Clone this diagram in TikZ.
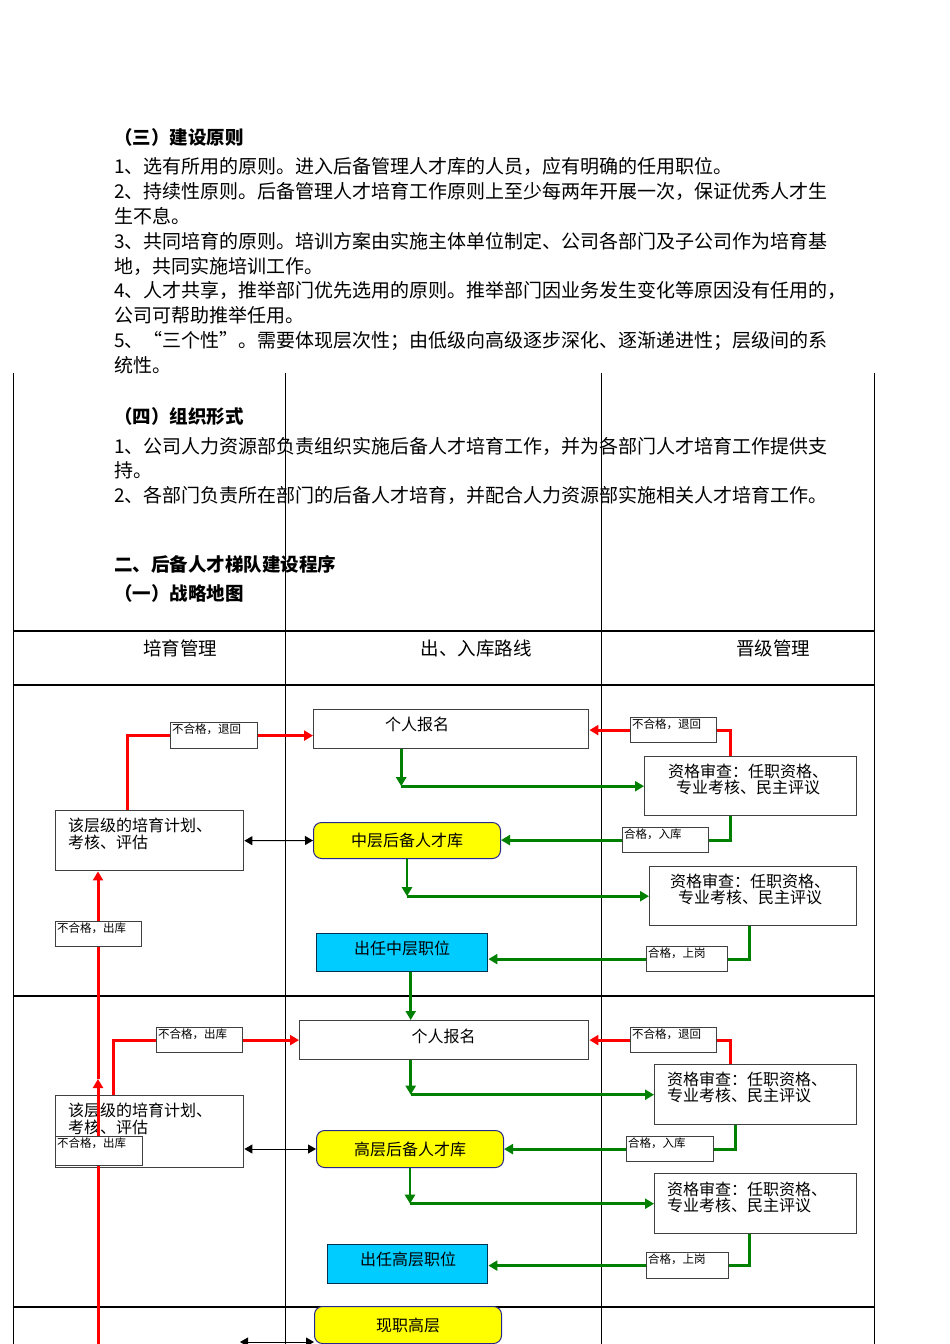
\documentclass[tikz,border=0pt]{standalone}
\usepackage{fontspec}
\setmainfont{Noto Sans CJK SC}
\usetikzlibrary{arrows.meta,calc}
\pgfdeclarelayer{front}
\pgfsetlayers{main,front}
\definecolor{gr}{RGB}{0,128,0}
\definecolor{rd}{RGB}{255,0,0}
\definecolor{yl}{RGB}{255,255,0}
\definecolor{cy}{RGB}{0,204,255}
\definecolor{navy}{RGB}{40,40,140}
\definecolor{tealb}{RGB}{0,50,80}
\definecolor{bord}{RGB}{64,64,64}
\begin{document}
\begin{tikzpicture}[x=1pt,y=-1pt,
  body/.style={anchor=base west,inner sep=0,font=\fontsize{19}{19}\selectfont},
  hd/.style={anchor=base west,inner sep=0,font=\fontsize{18.5}{18.5}\selectfont\bfseries},
  colhd/.style={anchor=base,inner sep=0,font=\fontsize{18.5}{18.5}\selectfont},
  grid/.style={line width=1pt,black},
  hgrid/.style={line width=1.6pt,black},
  box/.style={draw=bord,line width=1.4pt,anchor=north west,inner sep=0},
  pool/.style={box,draw=navy,line width=1pt,fill=yl,rounded corners=8pt,font=\fontsize{16}{16}\selectfont},
  post/.style={box,draw=tealb,fill=cy,line width=1.4pt},
  btxt/.style={inner sep=0,font=\fontsize{16}{16}\selectfont},
  mtxt/.style={inner sep=0,font=\fontsize{16}{16}\selectfont,align=#1},
  lbl/.style 2 args={draw=bord,line width=1.2pt,fill=white,anchor=north west,
    inner xsep=1.5pt,inner ysep=1pt,text width=#1,text height=10pt,text depth=#2,
    align=left,font=\fontsize{11.5}{11.5}\selectfont},
  rl/.style={draw=rd,line width=3pt},
  rarr/.style={rl,-{Triangle[length=9pt,width=10pt]}},
  gl/.style={draw=gr,line width=2.8pt},
  garr/.style={gl,-{Triangle[length=9pt,width=10pt]}},
  karr/.style={draw=black,line width=1pt,{Triangle[length=8pt,width=9pt]}-{Triangle[length=8pt,width=9pt]}}
]
\useasboundingbox (0,0) rectangle (950,1344);

% table grid
\draw[grid] (13,373) -- (13,1344);
\draw[grid] (285,373) -- (285,1344);
\draw[grid] (601,373) -- (601,1344);
\draw[grid] (874,373) -- (874,1344);
\draw[hgrid] (13,631) -- (874,631);
\draw[hgrid] (13,685) -- (874,685);
\draw[hgrid] (13,996) -- (874,996);
\draw[hgrid] (13,1307) -- (874,1307);

% text block
\node[hd] (h3) at (114,144) {（三）建设原则};
\node[body] (t1) at (114,173) {1、选有所用的原则。进入后备管理人才库的人员，应有明确的任用职位。};
\node[body] (t2) at (114,198) {2、持续性原则。后备管理人才培育工作原则上至少每两年开展一次，保证优秀人才生};
\node[body] (t2b) at (114,223) {生不息。};
\node[body] (t3) at (114,248) {3、共同培育的原则。培训方案由实施主体单位制定、公司各部门及子公司作为培育基};
\node[body] (t3b) at (114,273) {地，共同实施培训工作。};
\node[body] (t4) at (114,297) {4、人才共享，推举部门优先选用的原则。推举部门因业务发生变化等原因没有任用的，};
\node[body] (t4b) at (114,322) {公司可帮助推举任用。};
\node[body] (t5) at (114,347) {5、“三个性”。需要体现层次性；由低级向高级逐步深化、逐渐递进性；层级间的系};
\node[body] (t5b) at (114,372) {统性。};
\node[hd] (h4) at (114,423) {（四）组织形式};
\node[body] (o1) at (114,453) {1、公司人力资源部负责组织实施后备人才培育工作，并为各部门人才培育工作提供支};
\node[body] (o1b) at (114,477) {持。};
\node[body] (o2) at (114,502) {2、各部门负责所在部门的后备人才培育，并配合人力资源部实施相关人才培育工作。};
\node[hd] (h5) at (114,571) {二、后备人才梯队建设程序};
\node[hd] (h6) at (114,600) {（一）战略地图};

% column headers
\node[colhd] (c1) at (180,655) {培育管理};
\node[colhd] (c2) at (476,655) {出、入库路线};
\node[colhd] (c3) at (773,655) {晋级管理};

% ---- row 1 boxes
\node[box,minimum width=275,minimum height=39] (p1) at (313,709) {};
\node[btxt] (p1t) at (417,724) {个人报名};
\node[box,minimum width=188,minimum height=60] (plan1) at (55,810) {};
\node[mtxt=left,anchor=west,font=\fontsize{16}{17}\selectfont] (plan1t) at (68,833.5) {该层级的培育计划、\\考核、评估};
\node[pool,minimum width=187,minimum height=36] (pool1) at (313,822) {中层后备人才库};
\node[box,minimum width=212,minimum height=59] (q1) at (644,756) {};
\node[mtxt=center] (q1t) at (748,779) {资格审查：任职资格、\\专业考核、民主评议};
\node[box,minimum width=207,minimum height=59] (q2) at (649,866) {};
\node[mtxt=center] (q2t) at (750,889.5) {资格审查：任职资格、\\专业考核、民主评议};
\node[post,minimum width=171,minimum height=38] (post1) at (316,933) {};
\node[btxt] (post1t) at (402,948) {出任中层职位};

% ---- row 2 boxes
\node[box,minimum width=289,minimum height=39] (p2) at (299,1020) {};
\node[btxt] (p2t) at (443.5,1036) {个人报名};
\node[box,minimum width=188,minimum height=72] (plan2) at (55,1095) {};
\node[mtxt=left,anchor=west,font=\fontsize{16}{17}\selectfont] (plan2t) at (68,1118.5) {该层级的培育计划、\\考核、评估};
\node[pool,minimum width=187,minimum height=37] (pool2) at (316,1130) {高层后备人才库};
\node[box,minimum width=202,minimum height=60] (q3) at (654,1064) {};
\node[mtxt=left,anchor=west] (q3t) at (667,1087.5) {资格审查：任职资格、\\专业考核、民主评议};
\node[box,minimum width=202,minimum height=60] (q4) at (654,1173) {};
\node[mtxt=left,anchor=west] (q4t) at (667,1197) {资格审查：任职资格、\\专业考核、民主评议};
\node[post,minimum width=160,minimum height=39] (post2) at (327,1244) {};
\node[btxt] (post2t) at (408,1259) {出任高层职位};

% ---- row 3
\node[pool,minimum width=187,minimum height=37] (pool3) at (314,1306) {现职高层};

% ---- small labels (front layer)
\begin{pgfonlayer}{front}
\node[lbl={84pt}{14pt}] (lA1) at (170,722) {不合格，退回};
\node[lbl={83pt}{13pt}] (lR1) at (630,717) {不合格，退回};
\node[lbl={83pt}{13pt}] (lG1) at (622,827) {合格，入库};
\node[lbl={78pt}{13pt}] (lG2) at (646,946) {合格，上岗};
\node[lbl={83pt}{13pt}] (lX1) at (55,921) {不合格，出库};
\node[lbl={83pt}{13pt}] (lA2) at (156,1027) {不合格，出库};
\node[lbl={84pt}{17pt}] (lX2) at (55,1136) {不合格，出库};
\node[lbl={83pt}{13pt}] (lR2) at (630,1027) {不合格，退回};
\node[lbl={84pt}{13pt}] (lG3) at (626,1136) {合格，入库};
\node[lbl={79pt}{14pt}] (lG4) at (646,1252) {合格，上岗};
\end{pgfonlayer}

% ---- connectors row 1
\draw[rl] ([xshift=-22pt]plan1.north) |- (lA1.west);
\draw[rarr] (lA1.east) -- (lA1.east -| p1.west);
\draw[rl] ([xshift=-20pt]q1.north) |- (lR1.east);
\draw[rarr] (lR1.west) -- (lR1.west -| p1.east);
\coordinate (p1o) at ([xshift=-50pt]p1.south);
\coordinate (g1) at (p1o |- q1.west);
\draw[garr] (p1o) -- (g1);
\draw[garr] (g1) -- (q1.west);
\draw[gl] ([xshift=-20pt]q1.south) |- (lG1.east);
\draw[garr] (lG1.west) -- (lG1.west -| pool1.east);
\coordinate (g2) at (pool1.south |- q2.west);
\draw[garr] (pool1.south) -- (g2);
\draw[garr] (g2) -- (q2.west);
\draw[gl] ([xshift=-3.5pt]q2.south) |- (lG2.east);
\draw[garr] (lG2.west) -- (lG2.west -| post1.east);
\coordinate (post1o) at ([xshift=8.5pt]post1.south);
\draw[garr] (post1o) -- (post1o |- p2.north);
\draw[karr] (plan1.east) -- (pool1.west);

% ---- connectors row 2
\draw[rl] ([xshift=-36pt]plan2.north) |- (lA2.west);
\draw[rarr] (lA2.east) -- (lA2.east -| p2.west);
\draw[rl] ([xshift=-25pt]q3.north) |- (lR2.east);
\draw[rarr] (lR2.west) -- (lR2.west -| p2.east);
\coordinate (p2o) at ([xshift=-33.5pt]p2.south);
\coordinate (g3) at (p2o |- q3.west);
\draw[garr] (p2o) -- (g3);
\draw[garr] (g3) -- (q3.west);
\draw[gl] ([xshift=-20pt]q3.south) |- (lG3.east);
\draw[garr] (lG3.west) -- (lG3.west -| pool2.east);
\coordinate (g4) at (pool2.south |- q4.west);
\draw[garr] (pool2.south) -- (g4);
\draw[garr] (g4) -- (q4.west);
\draw[gl] ([xshift=-6pt]q4.south) |- (lG4.east);
\draw[garr] (lG4.west) -- (lG4.west -| post2.east);
\coordinate (k2) at (plan2.east |- pool2.west);
\draw[karr] (k2) -- (pool2.west);

% ---- long red line on the left
\coordinate (rb) at (98,1344);
\coordinate (ra) at (98,1079);
\draw[rarr] (rb) -- (ra);
\draw[rarr] (ra) -- (ra |- plan1.south);

% ---- bottom black arrow
\coordinate (kb) at (240,1342);
\draw[karr] (kb) -- (kb -| pool3.west);
\end{tikzpicture}
\end{document}
